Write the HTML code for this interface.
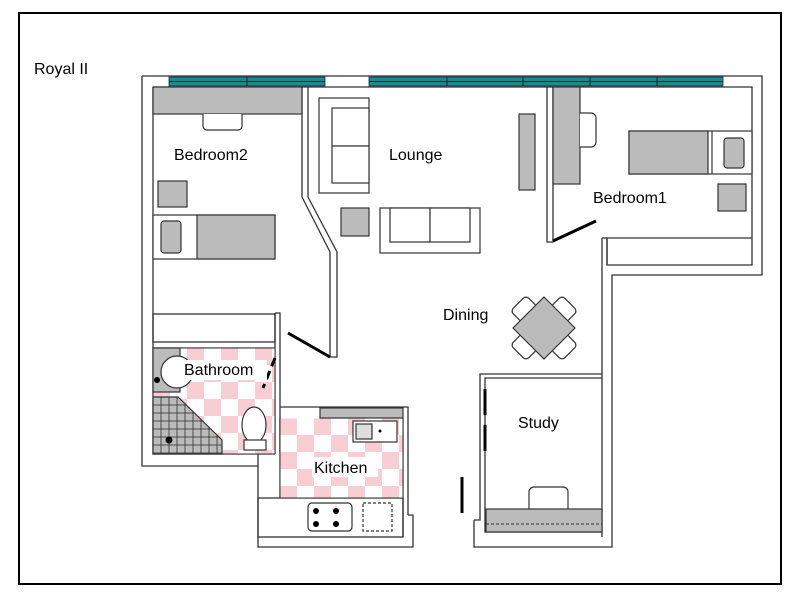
<!DOCTYPE html>
<html><head><style>body{margin:0;background:#fff}svg{display:block}text{font-family:"Liberation Sans",sans-serif;font-size:16px;fill:#000}</style></head><body>
<svg width="800" height="600" viewBox="0 0 800 600" xmlns="http://www.w3.org/2000/svg">
<rect x="0" y="0" width="800" height="600" fill="#fff"/>
<rect x="19" y="13" width="762" height="571" fill="none" stroke="#000" stroke-width="2"/>
<text x="34" y="74" font-size="15">Royal II</text>
<g fill="none" stroke="#333" stroke-width="1.3">
<polyline points="142,76 762,76 762,275 612,275 612,547 474,547 474,520"/>
<polyline points="142,76 142,466 258,466 258,547 413,547 413,515 408,515"/>
<polyline points="153,87 752,87 752,265 607,265 607,238 752,238"/>
<polyline points="153,87 153,454 275,454"/>
<line x1="602" y1="238" x2="602" y2="537"/>
<line x1="607" y1="238" x2="607" y2="265"/>
<line x1="602" y1="238" x2="607" y2="238"/>
<polyline points="302,87 302,197 330,252 330,357 337,357 337,252 308,197 308,87"/>
<polyline points="547,87 547,242 553,242 553,87"/>
<rect x="153" y="314" width="122" height="28"/>
<line x1="153" y1="348" x2="275" y2="348"/>
<polyline points="275,313 280,313 280,454"/>
<line x1="275" y1="313" x2="275" y2="454"/>
<polyline points="280,407 320,407 408,407 408,515"/>
<line x1="403" y1="418" x2="403" y2="537"/>
<polyline points="258,454 258,466"/>
<rect x="258" y="498" width="145" height="39"/>
<line x1="280" y1="418" x2="280" y2="498"/>
<polyline points="602,374 480,374 480,520 474,520"/>
<polyline points="602,378 485,378 485,532 602,532"/>
</g>
<g fill="#1a8a8a" stroke="#225" stroke-width="0.8">
<rect x="169" y="77" width="156" height="9"/>
<rect x="369" y="77" width="354" height="9"/>
</g>
<g stroke="#222" stroke-width="1"><line x1="169" y1="81.5" x2="325" y2="81.5"/><line x1="369" y1="81.5" x2="723" y2="81.5"/>
<line x1="247" y1="77" x2="247" y2="86"/><line x1="447" y1="77" x2="447" y2="86"/><line x1="523" y1="77" x2="523" y2="86"/><line x1="590" y1="77" x2="590" y2="86"/><line x1="657" y1="77" x2="657" y2="86"/></g>
<defs>
<pattern id="tile" x="153" y="348" width="34" height="34" patternUnits="userSpaceOnUse"><rect width="34" height="34" fill="#fff"/><rect width="17" height="17" fill="#f8cdd4"/><rect x="17" y="17" width="17" height="17" fill="#f8cdd4"/></pattern>
<pattern id="tile2" x="280" y="418" width="34" height="34" patternUnits="userSpaceOnUse"><rect width="34" height="34" fill="#fff"/><rect width="17" height="17" fill="#f8cdd4"/><rect x="17" y="17" width="17" height="17" fill="#f8cdd4"/></pattern>
<pattern id="grid" x="153" y="397" width="8" height="8" patternUnits="userSpaceOnUse"><rect width="8" height="8" fill="#bbb" stroke="#333" stroke-width="0.8"/></pattern>
</defs>
<rect x="153.5" y="348.5" width="121" height="105" fill="url(#tile)"/>
<rect x="280.5" y="418.5" width="122" height="79" fill="url(#tile2)"/>
<g stroke="#333" stroke-width="1.2">
<rect x="153" y="348" width="27" height="44" fill="#bbb"/>
<circle cx="177" cy="372" r="16" fill="#fff"/>
<polygon points="153,397 178,397 222,440 222,454 153,454" fill="url(#grid)"/>
<ellipse cx="254" cy="425" rx="12" ry="18" fill="#fff"/>
<rect x="244" y="440" width="22" height="10" fill="#fff"/>
<rect x="320" y="408" width="83" height="10" fill="#bbb"/>
<rect x="353" y="421" width="44" height="21" fill="#fff"/>
<rect x="356" y="424" width="16" height="15" fill="#ddd"/>
<rect x="308" y="503" width="44" height="28" rx="4" fill="#fff"/>
<rect x="363" y="503" width="29" height="28" fill="none" stroke-dasharray="3,2"/>
<rect x="153" y="87" width="149" height="27" fill="#bbb"/>
<path d="M203,114 v12 a4,4 0 0 0 4,4 h31 a4,4 0 0 0 4,-4 v-12" fill="#fff"/>
<rect x="158" y="181" width="29" height="26" fill="#bbb"/>
<rect x="153" y="215" width="122" height="44" fill="#fff"/>
<rect x="197" y="215" width="78" height="44" fill="#bbb"/>
<rect x="161" y="221" width="20" height="32" rx="3" fill="#bbb"/>
<rect x="319" y="98" width="50" height="95" fill="#fff"/>
<rect x="332" y="108" width="37" height="38" fill="#fff"/>
<rect x="332" y="146" width="37" height="37" fill="#fff"/>
<rect x="341" y="208" width="28" height="28" fill="#bbb"/>
<rect x="380" y="208" width="100" height="45" fill="#fff"/>
<rect x="390" y="208" width="40" height="34" fill="#fff"/>
<rect x="430" y="208" width="40" height="34" fill="#fff"/>
<rect x="519" y="114" width="16" height="76" fill="#bbb"/>
<rect x="553" y="87" width="27" height="97" fill="#bbb"/>
<path d="M580,113 h11 a5,5 0 0 1 5,5 v24 a5,5 0 0 1 -5,5 h-11" fill="#fff"/>
<rect x="629" y="131" width="123" height="43" fill="#fff"/>
<rect x="629" y="131" width="79" height="43" fill="#bbb"/>
<line x1="712" y1="131" x2="712" y2="174"/>
<rect x="724" y="138" width="20" height="30" rx="3" fill="#bbb"/>
<rect x="718" y="184" width="28" height="27" fill="#bbb"/>
<g fill="#fff">
<rect x="515" y="300" width="22" height="22" rx="4" transform="rotate(45 526 311)"/>
<rect x="551" y="300" width="22" height="22" rx="4" transform="rotate(45 562 311)"/>
<rect x="515" y="334" width="22" height="22" rx="4" transform="rotate(45 526 345)"/>
<rect x="551" y="334" width="22" height="22" rx="4" transform="rotate(45 562 345)"/>
</g>
<polygon points="544,297 575,328 544,359 513,328" fill="#bbb"/>
<path d="M529,509 v-17 a5,5 0 0 1 5,-5 h29 a5,5 0 0 1 5,5 v17" fill="#fff"/>
<rect x="486" y="509" width="116" height="23" fill="#bbb"/>
<line x1="486" y1="524" x2="602" y2="524" stroke-dasharray="3,2" stroke-width="1"/>
</g>
<g fill="#000"><circle cx="157" cy="380" r="3"/><circle cx="169" cy="440" r="3.5"/><circle cx="380" cy="431" r="1.5"/>
<circle cx="316" cy="511" r="3"/><circle cx="336" cy="511" r="3"/><circle cx="316" cy="524" r="3"/><circle cx="336" cy="524" r="3"/></g>
<g stroke="#000" stroke-width="3">
<line x1="288" y1="333" x2="330" y2="357"/>
<line x1="553" y1="241" x2="596" y2="221"/>
<line x1="275" y1="358" x2="263" y2="388" stroke-dasharray="9,5"/>
<line x1="485" y1="389" x2="485" y2="415"/><line x1="485" y1="425" x2="485" y2="451"/>
<line x1="462" y1="477" x2="462" y2="513"/>
</g>
<text x="174" y="160">Bedroom2</text>
<text x="389" y="160">Lounge</text>
<text x="593" y="203">Bedroom1</text>
<text x="443" y="320">Dining</text>
<rect x="183" y="360" width="84" height="20" fill="#fff"/>
<text x="184" y="375">Bathroom</text>
<text x="518" y="428">Study</text>
<rect x="312" y="457" width="66" height="20" fill="#fff"/>
<text x="314" y="473">Kitchen</text>
</svg>
</body></html>
